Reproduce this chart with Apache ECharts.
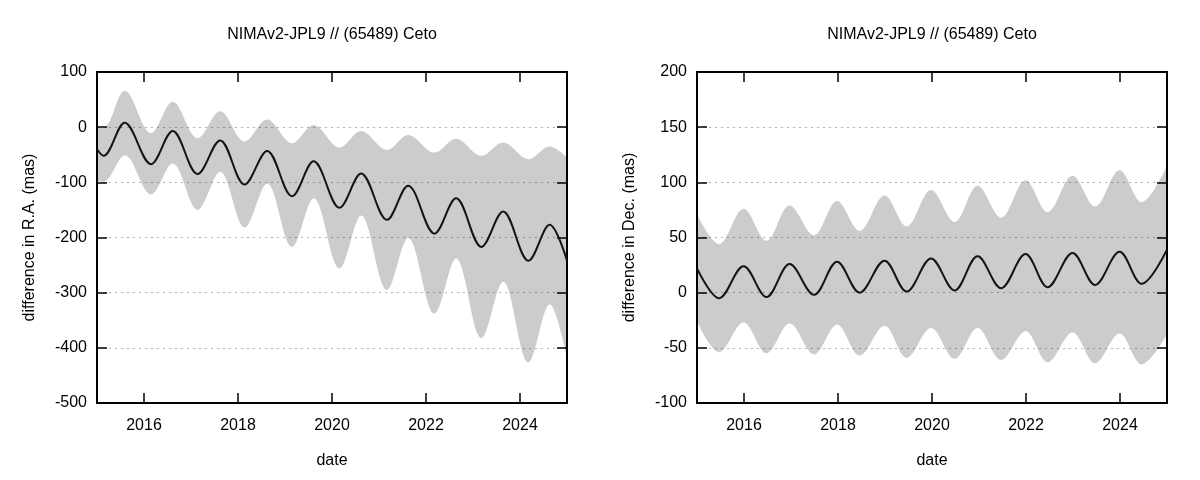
<!DOCTYPE html>
<html>
<head>
<meta charset="utf-8">
<title>NIMAv2-JPL9 // (65489) Ceto</title>
<script src="https://cdn.jsdelivr.net/npm/echarts@6/dist/echarts.min.js"></script>
<style>
  html, body { margin: 0; padding: 0; background: #fff; }
  #chart { width: 1200px; height: 480px; }
</style>
</head>
<body>
<div id="chart"></div>
<script>
// values at the turning points of each curve
const titleText = 'NIMAv2-JPL9 // (65489) Ceto';
const xTicks = [2016, 2018, 2020, 2022, 2024];

// R.A. panel
const raDates = [2015.00, 2015.14, 2015.59, 2016.15, 2016.61, 2017.14, 2017.62, 2018.14, 2018.62, 2019.15, 2019.61,
                 2020.16, 2020.62, 2021.17, 2021.62, 2022.18, 2022.64, 2023.18, 2023.64, 2024.18, 2024.63, 2025.00];
const raMid   = [-40, -52, 8, -67, -7, -85, -24, -104, -43, -125, -62, -146, -84, -168, -106, -193, -129, -217, -153, -242, -177, -242];
const raUpper = [0, -1, 66, -11, 46, -20, 29, -26, 14, -29, 4, -37, -7, -41, -14, -46, -21, -52, -28, -58, -35, -55];
const raLower = [-97, -99, -51, -122, -66, -150, -81, -182, -102, -217, -129, -256, -160, -295, -201, -338, -238, -382, -280, -426, -321, -419];

// Dec. panel
const decDates = [2015.00, 2015.47, 2015.99, 2016.48, 2016.97, 2017.49, 2017.98, 2018.46, 2018.99, 2019.46, 2019.98,
                  2020.48, 2020.97, 2021.47, 2021.99, 2022.46, 2022.99, 2023.47, 2023.99, 2024.46, 2025.00];
const decMid   = [22, -5, 24, -4, 26, -2, 28, 0, 29, 1, 31, 2, 33, 4, 35, 5, 36, 7, 37, 8, 39];
const decUpper = [71, 44, 76, 47, 79, 52, 83, 56, 88, 60, 93, 64, 97, 68, 102, 73, 106, 78, 111, 82, 115];
const decLower = [-26, -54, -27, -55, -28, -56, -29, -57, -30, -59, -32, -60, -32, -61, -35, -63, -36, -64, -37, -65, -38];

const FONT = "'Liberation Sans', Arial, sans-serif";
const INK = '#000';
const SMOOTH = 0.35;
const pairs = (xs, ys) => xs.map((x, i) => [x, ys[i]]);

let chart = echarts.init(document.getElementById('chart'), null, { renderer: 'canvas' });

let option = {
    animation: false,
    backgroundColor: '#fff',
    title: [],
    grid: [],
    xAxis: [],
    yAxis: [],
    series: []
};

function addPanel(idx, left, yMin, yMax, yStep, yName, dates, mid, upper, lower) {
    let frame = { show: true, onZero: false, lineStyle: { color: INK, width: 2 } };
    let ticks = { show: true, inside: true, length: 10, lineStyle: { color: INK, width: 1.5 } };

    option.title.push({
        text: titleText,
        left: left + 235,
        top: 27,
        padding: 0,
        textAlign: 'center',
        textStyle: { fontSize: 16, fontWeight: 'normal', color: INK, fontFamily: FONT }
    });
    option.grid.push({ left: left, top: 72, width: 470, height: 331 });

    // bottom and top x axes make the upper and lower frame
    option.xAxis.push({
        gridIndex: idx, type: 'value', min: 2015, max: 2025, position: 'bottom',
        name: 'date', nameLocation: 'middle', nameGap: 50,
        nameTextStyle: { fontSize: 16, color: INK, fontFamily: FONT },
        axisLine: frame,
        axisTick: Object.assign({ customValues: xTicks }, ticks),
        axisLabel: { customValues: xTicks, margin: 15, fontSize: 16, color: INK, fontFamily: FONT,
                     formatter: v => String(v) },
        splitLine: { show: false },
        z: 3
    });
    option.xAxis.push({
        gridIndex: idx, type: 'value', min: 2015, max: 2025, position: 'top',
        axisLine: frame,
        axisTick: Object.assign({ customValues: xTicks }, ticks),
        axisLabel: { show: false },
        splitLine: { show: false },
        z: 3
    });

    option.yAxis.push({
        gridIndex: idx, type: 'value', min: yMin, max: yMax, interval: yStep, position: 'left',
        name: yName, nameLocation: 'middle', nameGap: 59,
        nameTextStyle: { fontSize: 16, color: INK, fontFamily: FONT },
        axisLine: frame,
        axisTick: ticks,
        axisLabel: { margin: 10, fontSize: 16, color: INK, fontFamily: FONT },
        splitLine: { show: true, lineStyle: { color: 'rgba(0,0,0,0.3)', width: 1, type: [2, 4] } },
        z: 3
    });
    option.yAxis.push({
        gridIndex: idx, type: 'value', min: yMin, max: yMax, interval: yStep, position: 'right',
        axisLine: frame,
        axisTick: ticks,
        axisLabel: { show: false },
        splitLine: { show: false },
        z: 3
    });

    let xi = idx * 2, yi = idx * 2;

    // grey band: fill below the upper edge, then white below the lower edge
    option.series.push({
        type: 'line', xAxisIndex: xi, yAxisIndex: yi,
        data: pairs(dates, upper),
        smooth: SMOOTH, symbol: 'none', silent: true,
        lineStyle: { opacity: 0 },
        areaStyle: { color: '#cccccc', opacity: 1, origin: 'start' },
        z: 1
    });
    option.series.push({
        type: 'line', xAxisIndex: xi, yAxisIndex: yi,
        data: pairs(dates, lower),
        smooth: SMOOTH, symbol: 'none', silent: true,
        lineStyle: { opacity: 0 },
        areaStyle: { color: '#ffffff', opacity: 1, origin: 'start' },
        z: 2
    });
    option.series.push({
        type: 'line', xAxisIndex: xi, yAxisIndex: yi,
        data: pairs(dates, mid),
        smooth: SMOOTH, symbol: 'none', silent: true,
        lineStyle: { color: '#141414', width: 2 },
        z: 5
    });
}

addPanel(0, 97, -500, 100, 100, 'difference in R.A. (mas)', raDates, raMid, raUpper, raLower);
addPanel(1, 697, -100, 200, 50, 'difference in Dec. (mas)', decDates, decMid, decUpper, decLower);

chart.setOption(option);
</script>
</body>
</html>
